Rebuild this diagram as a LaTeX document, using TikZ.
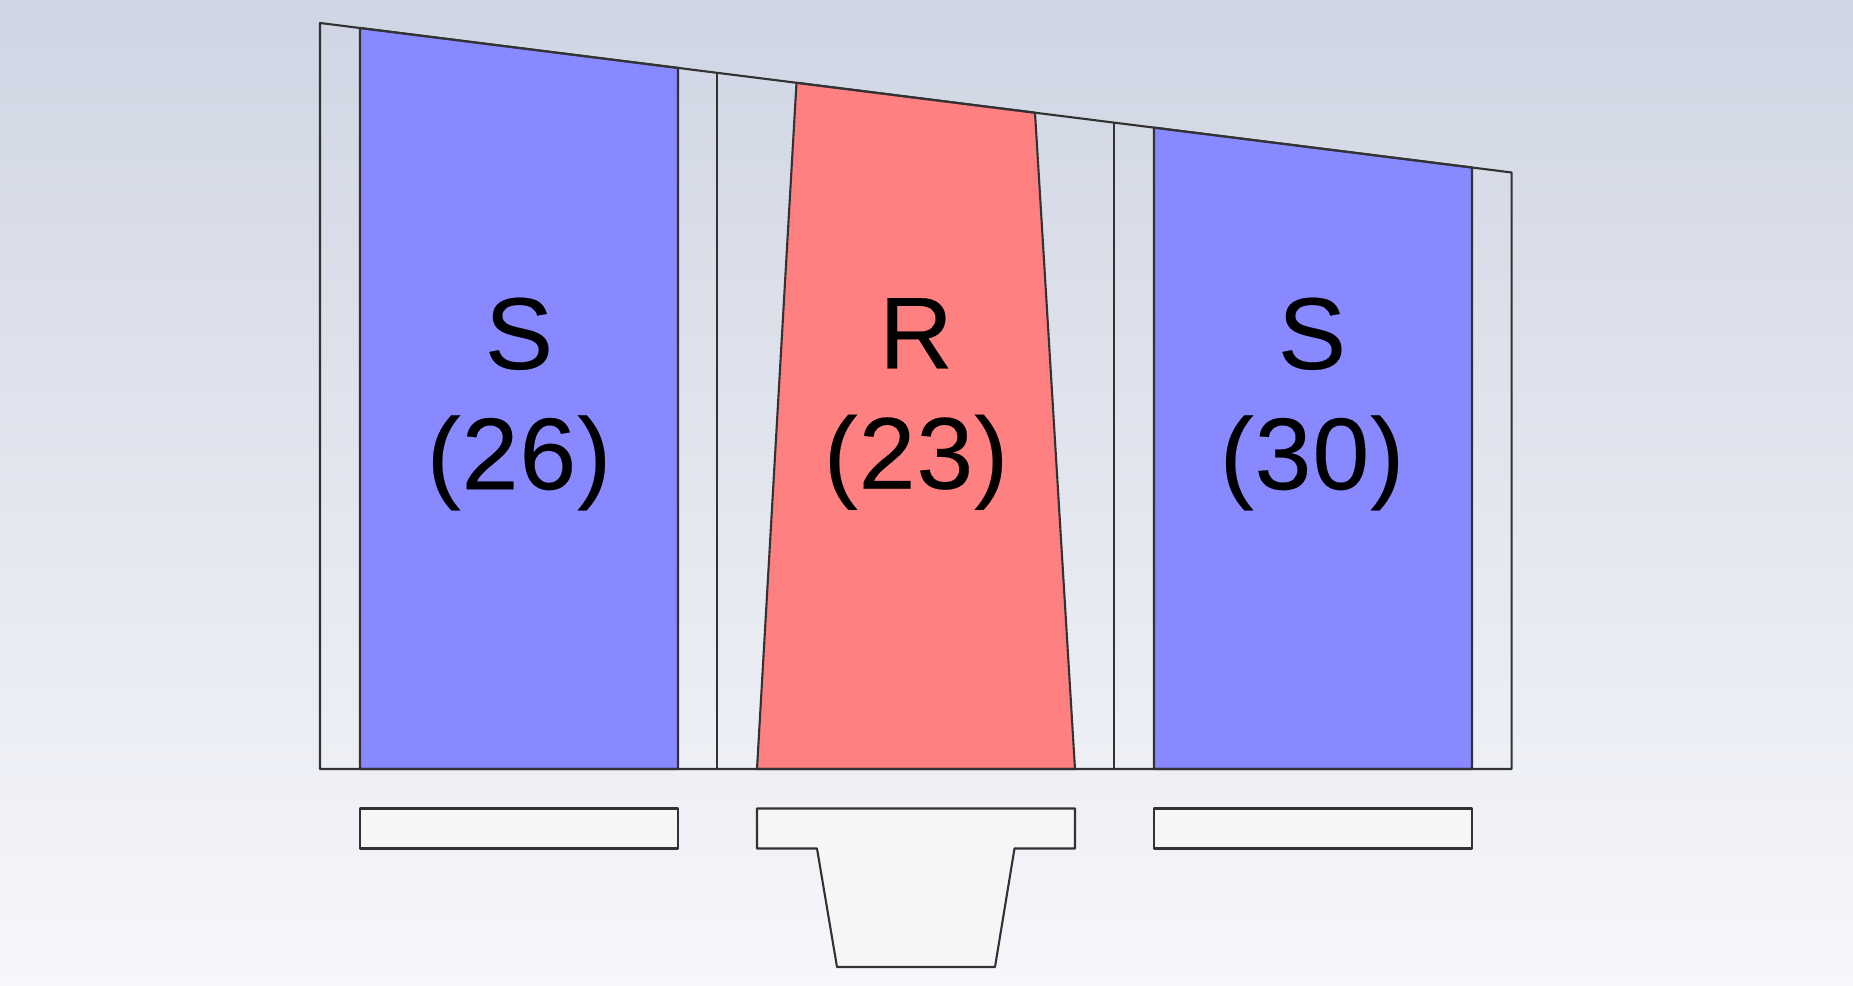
\documentclass[tikz,border=0pt]{standalone}
\usepackage{fontspec}
\setmainfont{Liberation Sans}[LetterSpace=1, FakeBold=0.25]
\usepackage{xcolor}
\usetikzlibrary{positioning}
\definecolor{statorblue}{RGB}{136, 136, 255}
\definecolor{rotorred}{RGB}{255, 128, 128}
\definecolor{shoegray}{RGB}{246, 246, 246}
\definecolor{bgtop}{RGB}{207, 213, 227}
\definecolor{bgbottom}{RGB}{246, 247, 251}
\definecolor{edgegray}{RGB}{50, 50, 50}

\begin{document}
\begin{tikzpicture}[
    x=0.01cm, y=-0.01cm,
    edge/.style={draw=edgegray, line width=0.6pt, line join=round},
    stator/.style={edge, fill=statorblue},
    rotor/.style={edge, fill=rotorred},
    shoe/.style={edge, fill=shoegray},
    bladelabel/.style={align=center, inner sep=0pt, font=\fontsize{29}{34.2}\selectfont}
]
    \path[use as bounding box, top color=bgtop, bottom color=bgbottom] (0,0) rectangle (1853,986);

    \draw[stator] (360,28) -- (678,67.9) -- (678,769) -- (360,769) -- cycle;
    \draw[rotor] (796.5,82.8) -- (1035,112.7) -- (1075,769) -- (757,769) -- cycle;
    \draw[stator] (1154,127.6) -- (1472,167.5) -- (1472,769) -- (1154,769) -- cycle;

    \draw[edge] (320,23) -- (1511.6,172.5) -- (1511.6,769) -- (320,769) -- cycle;
    \draw[edge] (717,72.8) -- (717,769);
    \draw[edge] (1114,122.6) -- (1114,769);

    \node (s1) [bladelabel] at (519,404) {S\\(26)};
    \node (r1) [bladelabel] at (916,404) {R\\(23)};
    \node (s2) [bladelabel] at (1312,404) {S\\(30)};

    \draw[shoe] (360,808.5) rectangle (678,848.5);
    \draw[shoe] (757,808.5) -- (1075,808.5) -- (1075,848.5) -- (1014.5,848.5) -- (995,967) -- (837,967) -- (817,848.5) -- (757,848.5) -- cycle;
    \draw[shoe] (1154,808.5) rectangle (1472,848.5);
\end{tikzpicture}
\end{document}
